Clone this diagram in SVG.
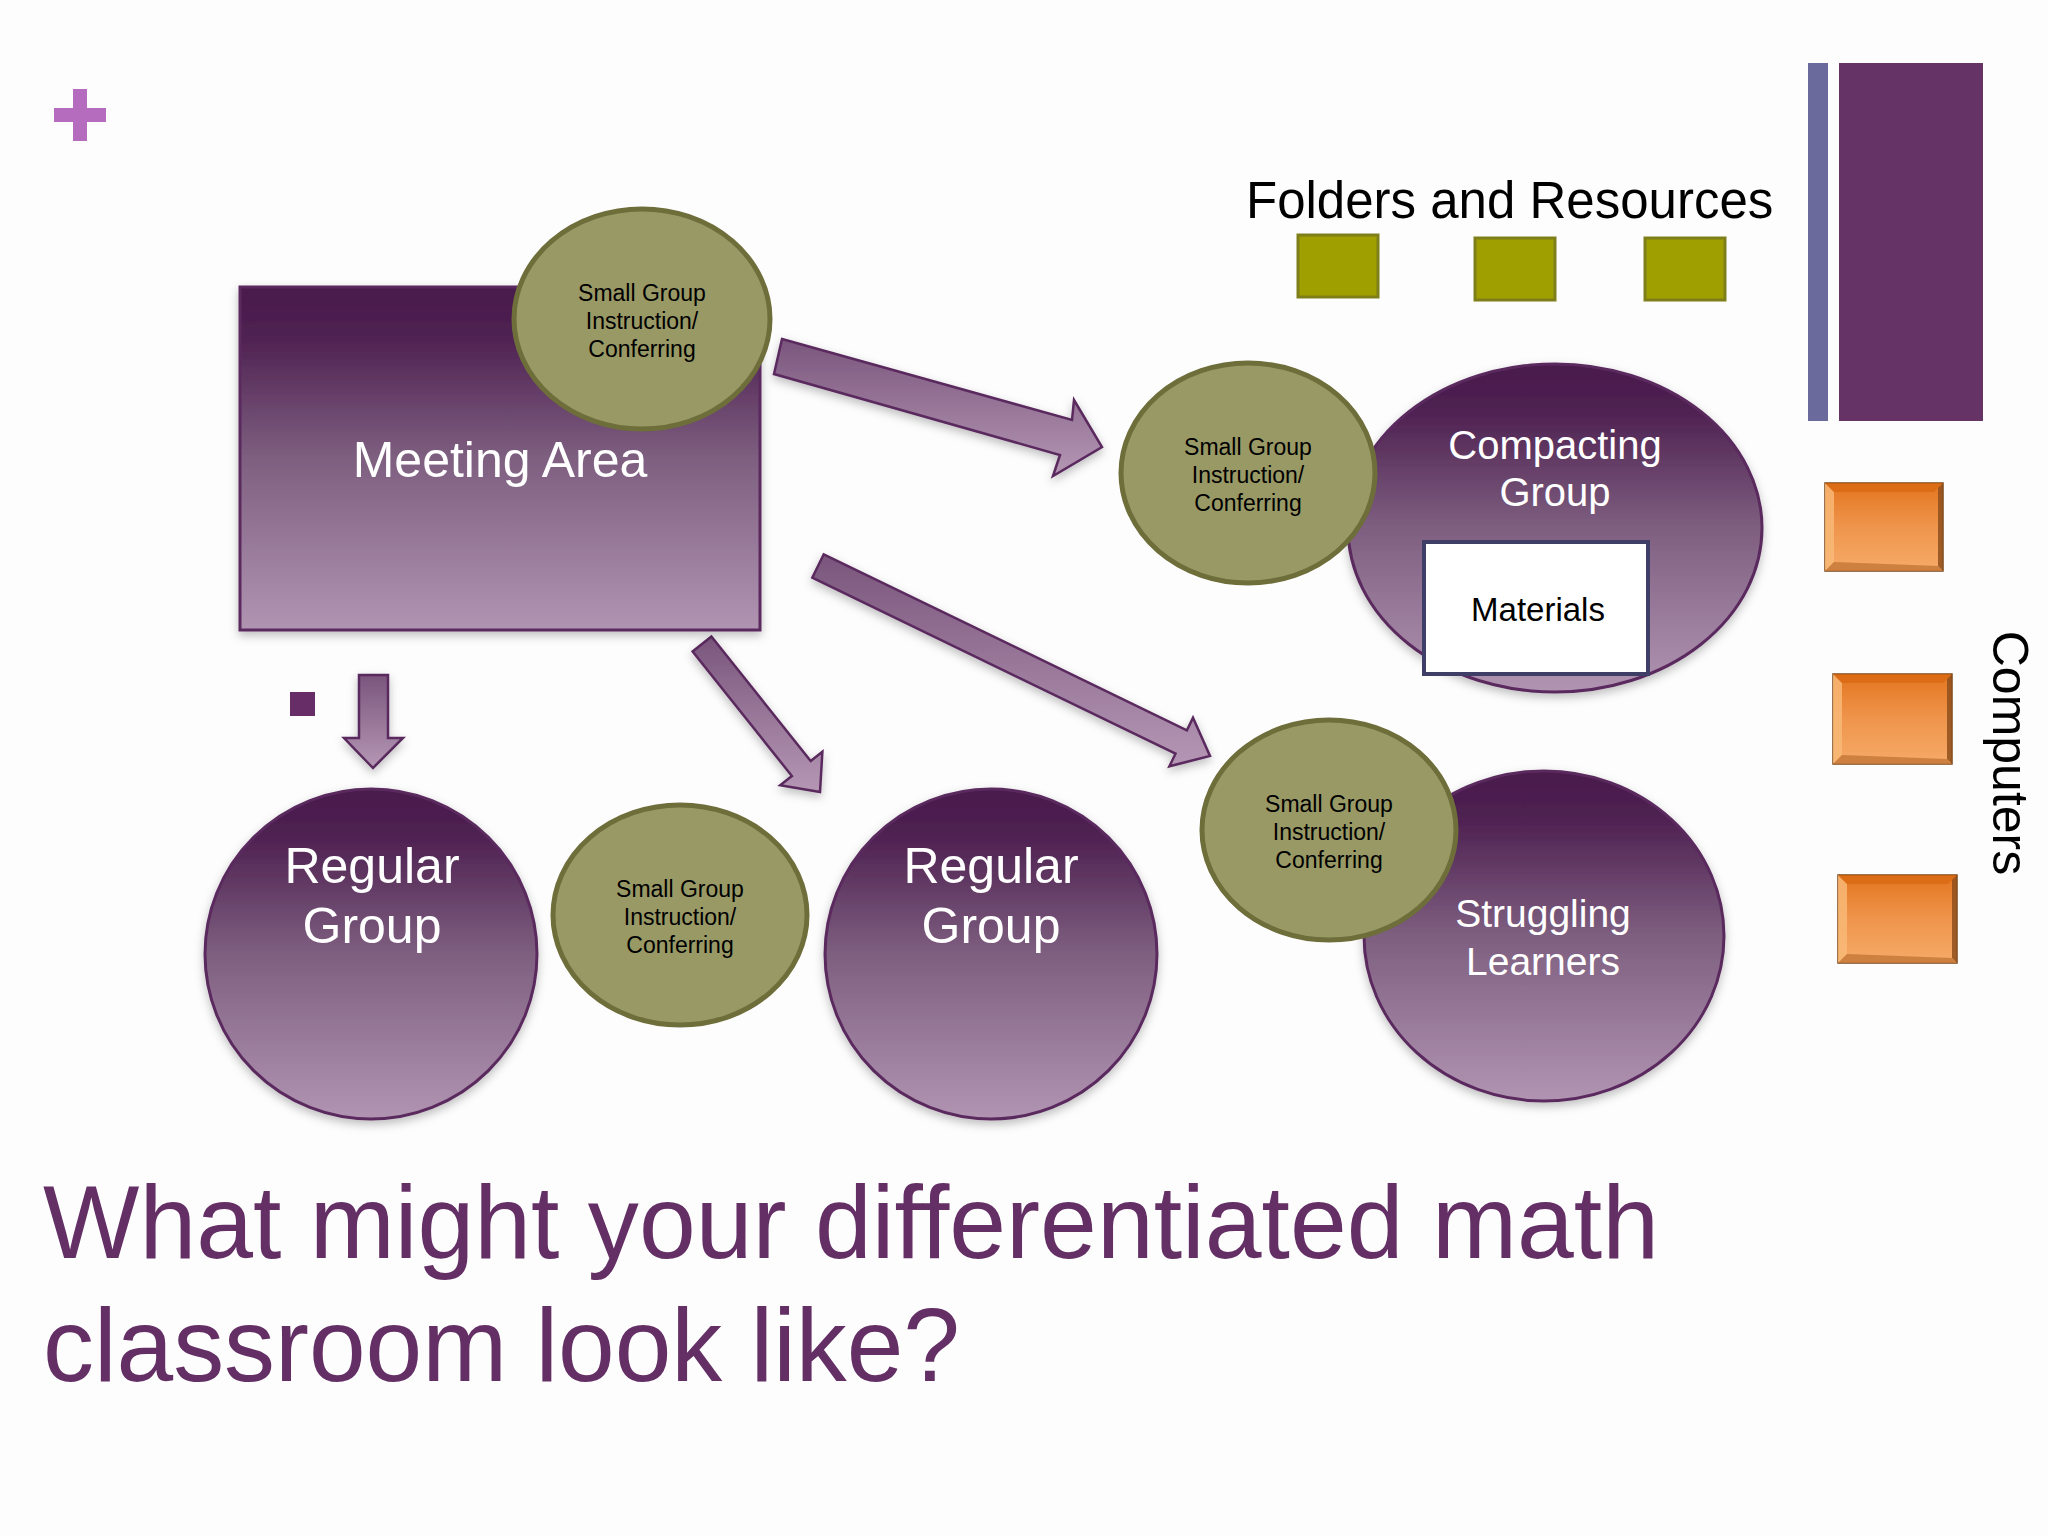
<svg xmlns="http://www.w3.org/2000/svg" width="2048" height="1536" viewBox="0 0 2048 1536">
  <defs>
    <linearGradient id="pg" x1="0" y1="0" x2="0" y2="1">
      <stop offset="0" stop-color="#481a4c"/>
      <stop offset="0.15" stop-color="#4f2252"/>
      <stop offset="0.5" stop-color="#7e5f80"/>
      <stop offset="1" stop-color="#b193b2"/>
    </linearGradient>
    <linearGradient id="ag" x1="0" y1="0" x2="0" y2="1">
      <stop offset="0" stop-color="#7a557c"/>
      <stop offset="1" stop-color="#b597b5"/>
    </linearGradient>
    <linearGradient id="og" x1="0" y1="0" x2="0" y2="1">
      <stop offset="0" stop-color="#e3751f"/>
      <stop offset="0.5" stop-color="#ef954c"/>
      <stop offset="1" stop-color="#f6aa68"/>
    </linearGradient>
    <filter id="sh" x="-20%" y="-20%" width="140%" height="140%">
      <feDropShadow dx="0" dy="4" stdDeviation="5" flood-color="#000" flood-opacity="0.25"/>
    </filter>
    <style>
      .purple { fill: url(#pg); stroke: #5a2a5e; stroke-width: 3; filter: url(#sh); }
      .olive { fill: #999966; stroke: #6e6e3b; stroke-width: 5; }
      .arrow { fill: url(#ag); stroke: #5a2a5e; stroke-width: 2.5; stroke-linejoin: miter; filter: url(#sh); }
      .folder { fill: #a09f00; stroke: #7f7f1a; stroke-width: 3; }
      .comp { fill: url(#og); stroke: #7a4718; stroke-width: 1.5; }
      .bl { fill: #f8b877; opacity: 0.85; }
      .bt { fill: #d8670f; opacity: 0.7; }
      .br { fill: #8e4f1c; opacity: 0.85; }
      .bb { fill: #c7793a; opacity: 0.85; }
      .t { font-family: "Liberation Sans", Arial, sans-serif; text-anchor: middle; }
      .w { fill: #ffffff; }
      .k { fill: #000000; }
      .sm { font-size: 23px; }
    </style>
  </defs>
  <rect x="0" y="0" width="2048" height="1536" fill="#fefdfe"/>

  <!-- plus sign -->
  <g id="plus" fill="#b56cbf">
    <rect x="73" y="89" width="14" height="52"/>
    <rect x="54" y="108" width="52" height="14"/>
  </g>

  <!-- right bars -->
  <g id="bars">
    <rect x="1808" y="63" width="20" height="358" fill="#6a6a9c"/>
    <rect x="1839" y="63" width="144" height="358" fill="#663366"/>
  </g>

  <!-- connectors -->
  <g id="connectors">
    <polygon class="arrow" points="782,339 1072,420 1074,400 1102,447 1053,476 1060,455 774,374"/>
    <polygon class="arrow" points="823.7,554.3 1186.9,730.3 1193,717.7 1210,756 1169.4,766.3 1175.5,753.7 812.3,577.7"/>
    <polygon class="arrow" points="711.4,636.5 810.7,761 822.4,751.7 820,792 780.2,785.3 791.9,776 692.6,651.5"/>
    <polygon class="arrow" points="359,675 388,675 388,738 403,738 373,768 344,738 359,738"/>
  </g>

  <!-- Meeting Area -->
  <g id="meeting-area">
    <rect class="purple" x="240" y="287" width="520" height="343"/>
    <text class="t w" x="500" y="477" font-size="50">Meeting Area</text>
  </g>
  <g id="sg1">
    <ellipse class="olive" cx="642" cy="319" rx="128" ry="110"/>
    <text class="t k sm" x="642" y="301">Small Group</text>
    <text class="t k sm" x="642" y="329">Instruction/</text>
    <text class="t k sm" x="642" y="357">Conferring</text>
  </g>

  <!-- Folders -->
  <g id="folders">
    <text x="1246" y="218" font-family="Liberation Sans, Arial, sans-serif" font-size="51" fill="#000">Folders and Resources</text>
    <rect class="folder" x="1298" y="235" width="80" height="62"/>
    <rect class="folder" x="1475" y="238" width="80" height="62"/>
    <rect class="folder" x="1645" y="238" width="80" height="62"/>
  </g>

  <!-- Compacting Group -->
  <g id="compacting">
    <ellipse class="purple" cx="1555" cy="528" rx="207" ry="164"/>
    <text class="t w" x="1555" y="459" font-size="40">Compacting</text>
    <text class="t w" x="1555" y="506" font-size="40">Group</text>
  </g>
  <g id="materials">
    <rect x="1424" y="542" width="224" height="132" fill="#ffffff" stroke="#3e3e66" stroke-width="4"/>
    <text class="t k" x="1538" y="621" font-size="33">Materials</text>
  </g>
  <g id="sg2">
    <ellipse class="olive" cx="1248" cy="473" rx="127" ry="110"/>
    <text class="t k sm" x="1248" y="455">Small Group</text>
    <text class="t k sm" x="1248" y="483">Instruction/</text>
    <text class="t k sm" x="1248" y="511">Conferring</text>
  </g>

  <!-- Struggling Learners -->
  <g id="struggling">
    <ellipse class="purple" cx="1544" cy="936" rx="180" ry="165"/>
    <text class="t w" x="1543" y="927" font-size="39">Struggling</text>
    <text class="t w" x="1543" y="975" font-size="39">Learners</text>
  </g>
  <g id="sg3">
    <ellipse class="olive" cx="1329" cy="830" rx="127" ry="110"/>
    <text class="t k sm" x="1329" y="812">Small Group</text>
    <text class="t k sm" x="1329" y="840">Instruction/</text>
    <text class="t k sm" x="1329" y="868">Conferring</text>
  </g>

  <!-- bullet square -->
  <rect id="bullet" x="290" y="692" width="25" height="24" fill="#662d66"/>

  <!-- Regular Groups -->
  <g id="regular1">
    <ellipse class="purple" cx="371" cy="954" rx="166" ry="165"/>
    <text class="t w" x="372" y="883" font-size="50">Regular</text>
    <text class="t w" x="372" y="943" font-size="50">Group</text>
  </g>
  <g id="sg4">
    <ellipse class="olive" cx="680" cy="915" rx="127" ry="110"/>
    <text class="t k sm" x="680" y="897">Small Group</text>
    <text class="t k sm" x="680" y="925">Instruction/</text>
    <text class="t k sm" x="680" y="953">Conferring</text>
  </g>
  <g id="regular2">
    <ellipse class="purple" cx="991" cy="954" rx="166" ry="165"/>
    <text class="t w" x="991" y="883" font-size="50">Regular</text>
    <text class="t w" x="991" y="943" font-size="50">Group</text>
  </g>

  <!-- Computers -->
  <g id="computers">
    <g id="pc1">
      <rect class="comp" x="1825" y="483" width="118" height="88"/>
      <polygon class="bl" points="1825,483 1834,492 1834,562 1825,571"/>
      <polygon class="bt" points="1825,483 1943,483 1934,492 1834,492"/>
      <polygon class="br" points="1943,483 1943,571 1938,566 1938,488"/>
      <polygon class="bb" points="1825,571 1943,571 1938,566 1834,562"/>
    </g>
    <g id="pc2">
      <rect class="comp" x="1833" y="674" width="119" height="90"/>
      <polygon class="bl" points="1833,674 1842,683 1842,755 1833,764"/>
      <polygon class="bt" points="1833,674 1952,674 1943,683 1842,683"/>
      <polygon class="br" points="1952,674 1952,764 1947,759 1947,679"/>
      <polygon class="bb" points="1833,764 1952,764 1947,759 1842,755"/>
    </g>
    <g id="pc3">
      <rect class="comp" x="1838" y="875" width="119" height="88"/>
      <polygon class="bl" points="1838,875 1847,884 1847,954 1838,963"/>
      <polygon class="bt" points="1838,875 1957,875 1948,884 1847,884"/>
      <polygon class="br" points="1957,875 1957,963 1952,958 1952,880"/>
      <polygon class="bb" points="1838,963 1957,963 1952,958 1847,954"/>
    </g>
    <text class="t k" transform="translate(1993,753) rotate(90)" font-size="50">Computers</text>
  </g>

  <!-- Title -->
  <g id="title" font-family="Liberation Sans, Arial, sans-serif" font-size="103" fill="#632f65">
    <text x="43" y="1258" textLength="1616" lengthAdjust="spacingAndGlyphs">What might your differentiated math</text>
    <text x="43" y="1381" textLength="917" lengthAdjust="spacingAndGlyphs">classroom look like?</text>
  </g>
</svg>
